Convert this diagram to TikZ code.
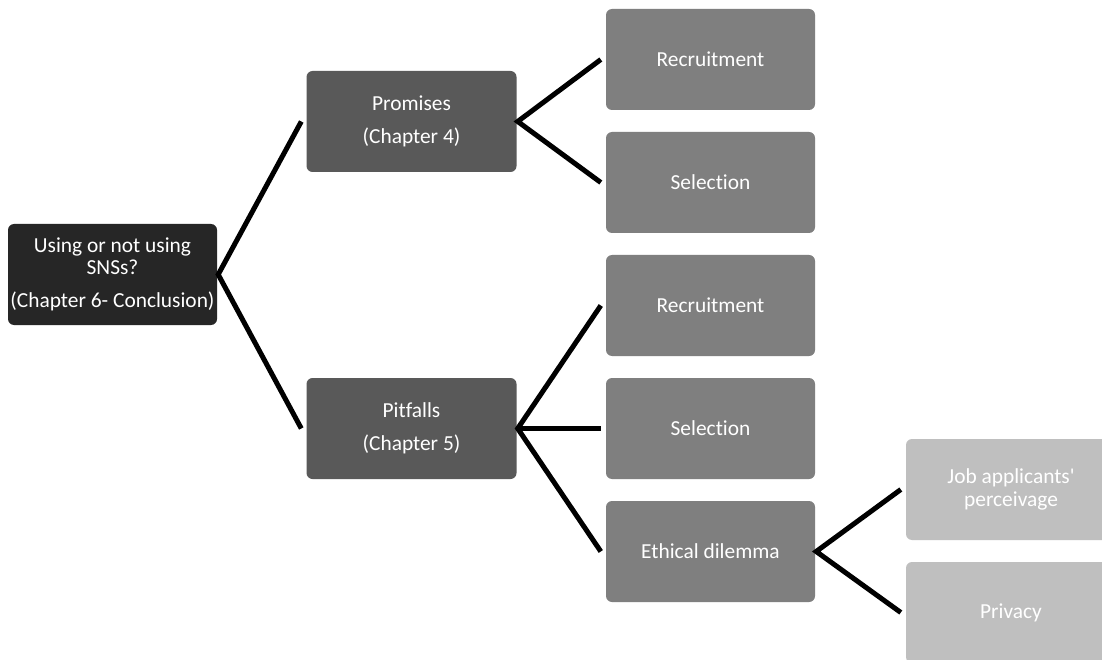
\documentclass[tikz,border=0pt]{standalone}
\usepackage{fontspec}
\setmainfont{Carlito}[Ligatures=NoCommon]
\definecolor{lvlA}{HTML}{262626}
\definecolor{lvlB}{HTML}{595959}
\definecolor{lvlC}{HTML}{7F7F7F}
\definecolor{lvlD}{HTML}{BFBFBF}
\tikzset{
  nodebox/.style={rounded corners=6pt, minimum width=209pt, minimum height=101pt,
    text=white, align=center, inner sep=0pt,
    font=\fontsize{21.4}{21.7}\selectfont},
  boxA/.style={nodebox, fill=lvlA},
  boxB/.style={nodebox, fill=lvlB, minimum width=210pt},
  boxC/.style={nodebox, fill=lvlC},
  boxD/.style={nodebox, fill=lvlD, minimum width=210pt, font=\fontsize{21.4}{23}\selectfont},
  conn/.style={line width=5pt, black, line join=miter, miter limit=20}
}
\begin{document}
\begin{tikzpicture}[x=1pt,y=-1pt]
\clip (0,0) rectangle (1102,660);
\fill[white] (0,0) rectangle (1102,660);
\node[boxA] (root) at (112.5,274.5) {Using or not using\\SNSs?\\[11.6pt](Chapter 6- Conclusion)};
\node[boxB] (prom) at (411.5,121.5) {Promises\\[11pt](Chapter 4)};
\node[boxB] (pit) at (411.5,428.5) {Pitfalls\\[11pt](Chapter 5)};
\node[boxC] (rec1) at (710.5,59.5) {Recruitment};
\node[boxC] (sel1) at (710.5,182.5) {Selection};
\node[boxC] (rec2) at (710.5,305.5) {Recruitment};
\node[boxC] (sel2) at (710.5,428.5) {Selection};
\node[boxC] (eth) at (710.5,551.5) {Ethical dilemma};
\node[boxD] (job) at (1011,489.5) {Job applicants\textquotesingle\\perceivage};
\node[boxD] (priv) at (1011,612.5) {Privacy};
\draw[conn] ([xshift=-5pt]prom.west) -- ([xshift=1pt]root.east) -- ([xshift=-5pt]pit.west);
\draw[conn] ([xshift=-5pt]rec1.west) -- ([xshift=1pt]prom.east) -- ([xshift=-5pt]sel1.west);
\draw[conn] ([xshift=-5pt]rec2.west) -- ([xshift=1pt]pit.east) -- ([xshift=-5pt]eth.west);
\draw[conn] ([xshift=1pt]pit.east) -- ([xshift=-5pt]sel2.west);
\draw[conn] ([xshift=-5pt]job.west) -- ([xshift=1pt]eth.east) -- ([xshift=-5pt]priv.west);
\end{tikzpicture}
\end{document}
